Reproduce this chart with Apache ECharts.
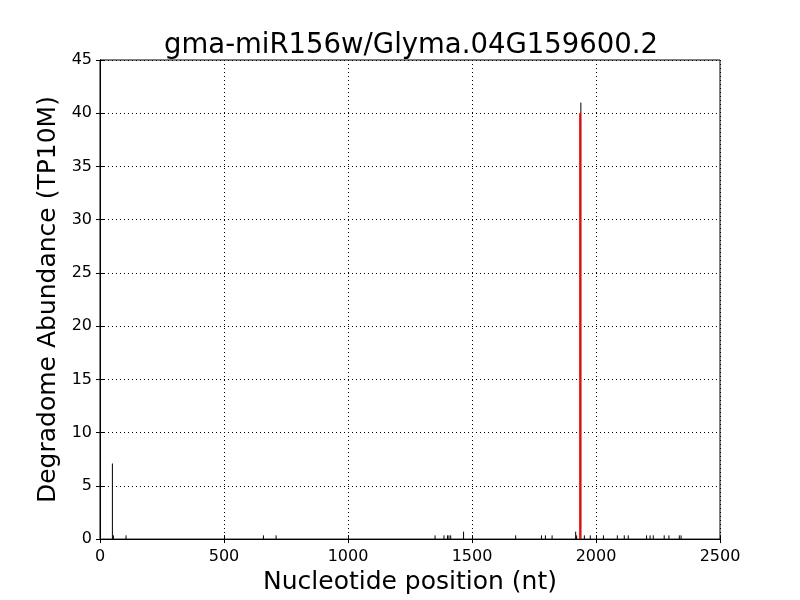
<!DOCTYPE html>
<html><head><meta charset="utf-8">
<script src="https://cdn.jsdelivr.net/npm/echarts@6/dist/echarts.min.js"></script>
<style>html,body{margin:0;padding:0;background:#fff}#c{width:800px;height:600px}</style>
</head><body><div id="c"></div>
<script>
const positions = [50, 54, 105, 659, 710, 1351, 1387, 1401, 1407, 1414, 1466, 1676, 1780, 1796, 1823, 1918, 1922, 1939, 1953, 1977, 2030, 2086, 2114, 2130, 2204, 2218, 2231, 2275, 2294, 2336, 2343];
const abundance = [7.1, 0.35, 0.35, 0.35, 0.35, 0.35, 0.35, 0.35, 0.35, 0.35, 0.7, 0.35, 0.35, 0.35, 0.35, 0.7, 0.35, 41, 0.35, 0.35, 0.35, 0.35, 0.35, 0.35, 0.35, 0.35, 0.35, 0.35, 0.35, 0.35, 0.35];
const sitePosition = [1936];
const siteValue = [40];
const xTicks = [0, 500, 1000, 1500, 2000, 2500];
const yTicks = [0, 5, 10, 15, 20, 25, 30, 35, 40, 45];

const chart = echarts.init(document.getElementById('c'), null, {renderer: 'canvas'});
const font = 'DejaVu Sans';
function lineItem(color, width) {
  return function (params, api) {
    const p0 = api.coord([api.value(0), 0]);
    const p1 = api.coord([api.value(0), api.value(1)]);
    return {type: 'line', shape: {x1: p0[0], y1: p0[1], x2: p1[0], y2: p1[1]},
      style: {stroke: color, lineWidth: width}};
  };
}
const axisCommon = {
  axisLine: {show: true, lineStyle: {color: '#000', width: 1}},
  axisTick: {show: true, inside: true, length: 4, lineStyle: {color: '#000'}},
};
chart.setOption({
  animation: false,
  title: {text: 'gma-miR156w/Glyma.04G159600.2', left: 406, textAlign: 'center', top: 27,
    textStyle: {fontFamily: font, fontSize: 27.5, fontWeight: 'normal', color: '#000'}},
  grid: {left: 100, right: 80, top: 60, bottom: 60, show: true, borderColor: '#000', borderWidth: 1},
  xAxis: [{
    type: 'value', min: xTicks[0], max: xTicks[xTicks.length - 1], interval: 500, position: 'bottom',
    name: 'Nucleotide position (nt)', nameLocation: 'middle', nameGap: 30,
    nameTextStyle: {fontFamily: font, fontSize: 25, color: '#000'},
    axisLabel: {fontFamily: font, fontSize: 16, color: '#000', margin: 10, formatter: v => String(v)},
    splitLine: {show: true, lineStyle: {color: '#000', type: [1, 3], width: 1}},
    ...axisCommon
  }, {
    type: 'value', min: xTicks[0], max: xTicks[xTicks.length - 1], interval: 500, position: 'top',
    axisLabel: {show: false}, splitLine: {show: false}, ...axisCommon
  }],
  yAxis: [{
    type: 'value', min: yTicks[0], max: yTicks[yTicks.length - 1], interval: 5, position: 'left',
    name: 'Degradome Abundance (TP10M)', nameLocation: 'middle', nameGap: 38,
    nameTextStyle: {fontFamily: font, fontSize: 25, color: '#000'},
    axisLabel: {fontFamily: font, fontSize: 16, color: '#000', margin: 8},
    splitLine: {show: true, lineStyle: {color: '#000', type: [1, 3], width: 1}},
    ...axisCommon
  }, {
    type: 'value', min: yTicks[0], max: yTicks[yTicks.length - 1], interval: 5, position: 'right',
    axisLabel: {show: false}, splitLine: {show: false}, ...axisCommon
  }],
  series: [{
    type: 'custom', renderItem: lineItem('#000', 1), clip: true,
    data: positions.map((p, i) => [p, abundance[i]]), z: 2
  }, {
    type: 'custom', renderItem: lineItem('#ff0000', 2), clip: true,
    data: sitePosition.map((p, i) => [p, siteValue[i]]), z: 3
  }]
});
</script></body></html>
